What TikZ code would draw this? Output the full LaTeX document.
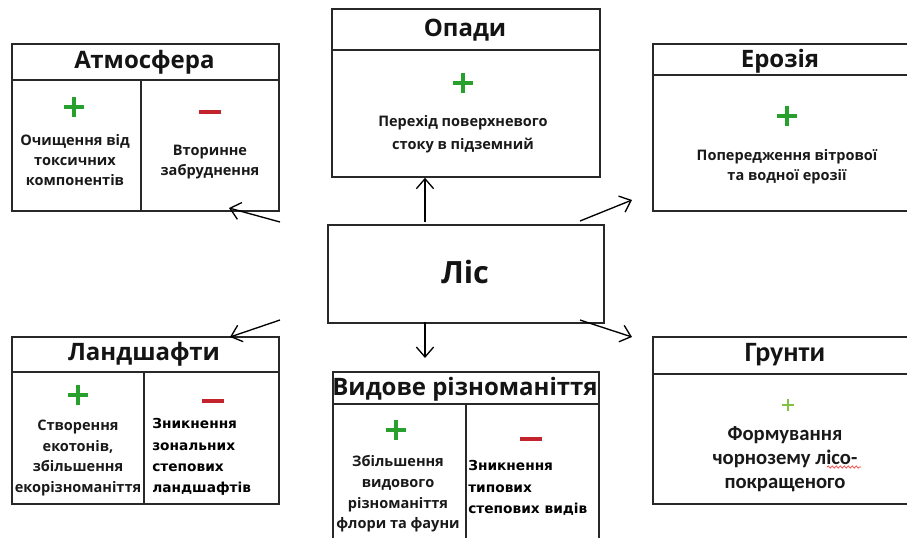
\documentclass[tikz,border=0pt]{standalone}
\usepackage{fontspec}
\setmainfont{Open Sans}
\newfontfamily\verd{DejaVu Sans}
\newfontfamily\calib{Carlito}
\usetikzlibrary{arrows.meta,calc,decorations.pathmorphing}
\definecolor{pgreen}{RGB}{40,160,45}
\definecolor{pred}{RGB}{195,35,45}
\definecolor{lgreen}{RGB}{130,195,70}
\definecolor{boxline}{RGB}{40,40,40}
\begin{document}
\begin{tikzpicture}[x=0.75pt,y=-0.75pt,
 box/.style={draw=boxline,line width=1.3pt,inner sep=0,anchor=north west},
 sep/.style={draw=boxline,line width=1.1pt},
 ttl/.style={font=\bfseries\fontsize{18}{21}\selectfont,inner sep=0,text=black!92},
 body/.style={font=\bfseries\fontsize{10.9}{15}\selectfont,align=center,inner sep=0,text=black!90},
 verdbody/.style={font=\verd\bfseries\fontsize{10.3}{16}\selectfont,align=left,inner sep=0,anchor=west},
 arr/.style={-{Straight Barb[length=7.5pt,width=13pt]},line width=1pt},
 plussign/.pic={\draw[pgreen,line width=2.6pt] (-10,0)--(10,0) (0,-10)--(0,10);},
 minussign/.pic={\draw[pred,line width=3pt] (-11,0)--(11,0);}
 ]
\clip (0,0) rectangle (907,537);
\fill[white] (0,0) rectangle (907,537);

% boxes
\node[box,minimum width=200.25pt,minimum height=125.25pt] (atm) at (11,43) {};
\node[box,minimum width=200.25pt,minimum height=125.25pt] (land) at (11,336) {};
\node[box,minimum width=199.5pt,minimum height=135pt] (vyd) at (332,371) {};
\node[box,minimum width=202.5pt,minimum height=125.25pt] (grunt) at (652,336) {};
\node[box,minimum width=201pt,minimum height=126pt] (opady) at (331,8) {};
\node[box,minimum width=202.5pt,minimum height=125.25pt] (eros) at (652,43) {};
\node[box,minimum width=207pt,minimum height=73.5pt] (lis) at (327,224) {};

% header lines and dividers
\draw[sep] (11,80) -- (278,80) (141,80) -- (141,210);
\draw[sep] (11,372) -- (278,372) (144,372) -- (144,503);
\draw[sep] (332,404) -- (598,404) (466,404) -- (466,551);
\draw[sep] (652,374) -- (922,374);
\draw[sep] (331,50) -- (599,50);
\draw[sep] (652,75) -- (922,75);

% titles
\node[ttl] (tatm) at (144.5,62) {Атмосфера};
\node[ttl] (tland) at (144,354) {Ландшафти};
\node[ttl] (tvyd) at (465,389) {Видове різноманіття};
\node[ttl,font=\calib\bfseries\fontsize{21}{24}\selectfont] (tgrunt) at (785,355) {Грунти};
\node[ttl] (topady) at (465,30) {Опади};
\node[ttl] (teros) at (780,61) {Ерозія};
\node[ttl,font=\bfseries\fontsize{23}{26}\selectfont] (tlis) at (465,272) {Ліс};

% signs
\pic at (74,107) {plussign};
\pic at (210,112) {minussign};
\pic at (78,395) {plussign};
\pic at (213,401) {minussign};
\pic at (396,430) {plussign};
\pic at (531,439) {minussign};
\pic at (463,83) {plussign};
\pic at (787,116) {plussign};
\draw[lgreen,line width=1.5pt] (782,405) -- (794,405) (788,399) -- (788,411);

% texts
\node[body] (atmp) at (75,160) {Очищення від\\токсичних\\компонентів};
\node[body] (atmm) at (210,162) {Вторинне\\забруднення};
\node[body,font=\bfseries\fontsize{10.9}{15.5}\selectfont] (landp) at (78,458) {Створення\\екотонів,\\збільшення\\екорізноманіття};
\node[verdbody] (landm) at (152,457) {Зникнення\\зональних\\степових\\ландшафтів};
\node[body,font=\bfseries\fontsize{10.9}{15.5}\selectfont] (vydp) at (398,494) {Збільшення\\видового\\різноманіття\\флори та фауни};
\node[verdbody] (vydm) at (468,488) {Зникнення\\типових\\степових видів};
\node[body,font=\calib\bfseries\fontsize{15.5}{18}\selectfont] (gruntp) at (785,459) {Формування\\чорнозему лісо-\\покращеного};
\node[body,font=\bfseries\fontsize{10.9}{17}\selectfont] (opadyp) at (463,134) {Перехід поверхневого\\стоку в підземний};
\node[body] (erosp) at (787,167) {Попередження вітрової\\та водної ерозії};
\draw[red!80,line width=0.5pt,decorate,decoration={snake,amplitude=0.8pt,segment length=3pt}] (827,467) -- (861,467);

% connector ends
\coordinate (lisTop) at (425,222);
\coordinate (lisBot) at (425,322);
\coordinate (vydIn) at (425,358);
\coordinate (erosFrom) at (580,221);
\coordinate (erosTo) at (632,200);
\coordinate (gruntFrom) at (580,320);
\coordinate (gruntTo) at (632,337);
\coordinate (atmFrom) at (280,222);
\coordinate (atmTo) at (229,208);
\coordinate (landFrom) at (280,320);
\coordinate (landTo) at (230,337);

\draw[arr] (lisTop) -- (opady.south -| lisTop);
\draw[arr] (lisBot) -- (vydIn);
\draw[arr] (erosFrom) -- (erosTo);
\draw[arr] (gruntFrom) -- (gruntTo);
\draw[arr] (atmFrom) -- (atmTo);
\draw[arr] (landFrom) -- (landTo);
\end{tikzpicture}
\end{document}
